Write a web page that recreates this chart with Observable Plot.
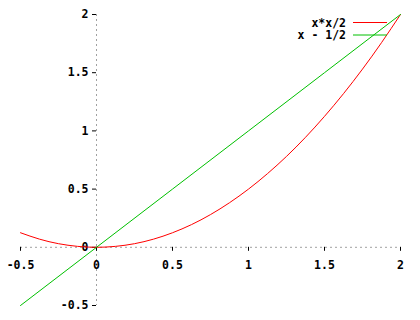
<!DOCTYPE html>
<html>
<head>
<meta charset="utf-8">
<script src="https://cdn.jsdelivr.net/npm/d3@7"></script>
<script src="https://cdn.jsdelivr.net/npm/@observablehq/plot@0.6"></script>
<style>
  html, body { margin: 0; padding: 0; background: #fff; }
  #chart { width: 420px; height: 320px; }
</style>
</head>
<body>
<div id="chart"></div>
<script>
const redX = [-0.5, -0.375, -0.25, -0.125, 0, 0.125, 0.25, 0.375, 0.5, 0.625, 0.75, 0.875, 1, 1.125, 1.25, 1.375, 1.5, 1.625, 1.75, 1.875, 2];
const redY = [0.125, 0.07, 0.031, 0.008, 0, 0.008, 0.031, 0.07, 0.125, 0.195, 0.281, 0.383, 0.5, 0.633, 0.781, 0.945, 1.125, 1.32, 1.531, 1.758, 2];
// Series 2: "x - 1/2" (green)
const greenX = [-0.5, 0, 0.5, 1, 1.5, 2];
const greenY = [-0.5, 0, 0.5, 1, 1.5, 2];
// Labels
const seriesNames = ["x*x/2", "x - 1/2"];
const seriesColors = ["#ff0000", "#00c000"];
// Ticks
const xTicks = [-0.5, 0, 0.5, 1, 1.5, 2];
const xTickLabels = ["-0.5", "0", "0.5", "1", "1.5", "2"];
const yTicks = [-0.5, 0, 0.5, 1, 1.5, 2];
const yTickLabels = ["-0.5", "0", "0.5", "1", "1.5", "2"];

const W = 420, H = 320;
const mL = 20, mR = 20, mT = 14, mB = 15;
const xDom = [-0.5, 2], yDom = [-0.5, 2];
// tick lengths in pixels converted to data units
const pxX = (xDom[1] - xDom[0]) / (W - mL - mR);
const pxY = (yDom[1] - yDom[0]) / (H - mT - mB);

const red = redX.map((x, i) => ({x, y: redY[i]}));
const green = greenX.map((x, i) => ({x, y: greenY[i]}));
const font = "'DejaVu Sans Mono', monospace";

const plot = Plot.plot({
  width: W, height: H,
  marginLeft: mL, marginRight: mR, marginTop: mT, marginBottom: mB,
  x: {domain: xDom, axis: null},
  y: {domain: yDom, axis: null},
  style: {fontFamily: font, fontSize: "11.5px", fontWeight: "bold", background: "#fff"},
  marks: [
    Plot.ruleX([0], {stroke: "#a0a0a0", strokeDasharray: "2,3", strokeWidth: 1}),
    Plot.ruleY([0], {stroke: "#a0a0a0", strokeDasharray: "2,3", strokeWidth: 1}),
    Plot.ruleX(xTicks, {x: d => d, y1: 0, y2: -4 * pxY, stroke: "#000", strokeWidth: 1}),
    Plot.ruleY(yTicks, {y: d => d, x1: 0, x2: -4 * pxX, stroke: "#000", strokeWidth: 1}),
    Plot.text(xTicks, {x: d => d, y: 0, text: (d, i) => xTickLabels[i], dy: 18, fill: "#000", textAnchor: "middle"}),
    Plot.text(yTicks, {x: 0, y: d => d, text: (d, i) => yTickLabels[i], dx: -8, fill: "#000", textAnchor: "end"}),
    Plot.line(red, {x: "x", y: "y", stroke: seriesColors[0], strokeWidth: 1, curve: "natural"}),
    Plot.line(green, {x: "x", y: "y", stroke: seriesColors[1], strokeWidth: 1})
  ]
});

// Legend (top-right, inside the frame)
const svg = d3.select(plot);
const lg = svg.append("g").attr("font-family", font).attr("font-size", "11.5px").attr("font-weight", "bold");
seriesNames.forEach((name, i) => {
  const y = 22.5 + i * 12.5;
  lg.append("text").attr("x", 346).attr("y", y).attr("dy", "0.35em").attr("text-anchor", "end").attr("fill", "#000").text(name);
  lg.append("line").attr("x1", 353).attr("x2", 387).attr("y1", y).attr("y2", y).attr("stroke", seriesColors[i]).attr("stroke-width", 1);
});

document.getElementById("chart").appendChild(plot);
</script>
</body>
</html>
